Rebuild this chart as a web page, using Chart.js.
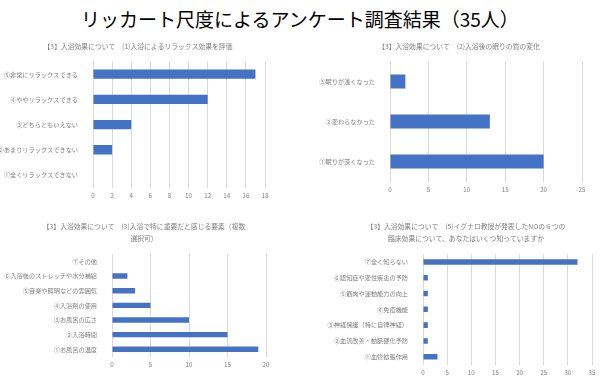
<!DOCTYPE html>
<html>
<head>
<meta charset="utf-8">
<script src="https://cdn.jsdelivr.net/npm/chart.js@4"></script>
<style>
  body { margin: 0; background: #fff; }
  #wrap { position: relative; width: 600px; height: 381px; overflow: hidden; }
  h1 { position: absolute; left: 0; top: 5px; width: 600px; margin: 0; text-align: center;
       font: 19px "Noto Sans CJK JP", sans-serif; color: #000; }
  canvas { position: absolute; }
</style>
</head>
<body>
<div id="wrap">
  <h1>リッカート尺度によるアンケート調査結果（35人）</h1>
  <canvas id="c1" width="300" height="170" style="left:0;top:35px"></canvas>
  <canvas id="c2" width="300" height="170" style="left:300px;top:35px"></canvas>
  <canvas id="c3" width="300" height="171" style="left:0;top:210px"></canvas>
  <canvas id="c4" width="300" height="171" style="left:300px;top:210px"></canvas>
</div>
<script>
// (1) relax effect
const relaxLabels = ['⑤非常にリラックスできる', '④ややリラックスできる', '③どちらともいえない', '②あまりリラックスできない', '①全くリラックスできない'];
const relaxValues = [17, 12, 4, 2, 0];

// (2) sleep quality
const sleepLabels = ['③眠りが浅くなった', '②変わらなかった', '①眠りが深くなった'];
const sleepValues = [2, 13, 20];

// (3) important factors
const factorLabels = ['⑦その他', '⑥入浴後のストレッチや水分補給', '⑤音楽や照明などの雰囲気', '④入浴剤の使用', '③お風呂の広さ', '②入浴時間', '①お風呂の温度'];
const factorValues = [0, 2, 3, 5, 10, 15, 19];

// (5) NO effects known
const noLabels = ['⑦全く知らない', '⑥認知症や変性疾患の予防', '⑤筋肉や運動能力の向上', '④免疫機能', '③神経保護（特に自律神経）', '②血流改善・動脈硬化予防', '①血管拡張作用'];
const noValues = [32, 1, 1, 1, 1, 1, 3];

const FONT = '"Noto Sans CJK JP", sans-serif';
const GRAY = '#7f7f7f';
const BLUE = '#4472C4';
const FS = 6.2;

function makeChart(id, labels, values, cfg) {
  new Chart(document.getElementById(id), {
    type: 'bar',
    data: {
      labels: labels,
      datasets: [{
        data: values,
        backgroundColor: BLUE,
        barPercentage: cfg.bar,
        categoryPercentage: 1
      }]
    },
    options: {
      indexAxis: 'y',
      responsive: false,
      animation: false,
      layout: { padding: cfg.pad },
      plugins: {
        legend: { display: false },
        tooltip: { enabled: false },
        title: {
          display: true,
          text: cfg.title,
          color: GRAY,
          font: { family: FONT, size: 6.8, weight: 'normal', lineHeight: 1.7 },
          padding: cfg.titlePad
        }
      },
      scales: {
        x: {
          min: 0,
          max: cfg.max,
          ticks: { stepSize: cfg.step, color: GRAY, font: { family: FONT, size: FS }, padding: 4 },
          grid: { color: '#d9d9d9', drawTicks: false },
          border: { display: false }
        },
        y: {
          afterFit: (scale) => { scale.width = cfg.yw; },
          ticks: { color: GRAY, font: { family: FONT, size: FS }, padding: 7 },
          grid: { display: false },
          border: { color: '#d9d9d9' }
        }
      }
    },
    plugins: [{
      // move the title so it is centred where the original one is
      id: 'titleShift',
      afterLayout(chart) {
        const t = chart.titleBlock;
        const hw = (t.right - t.left) / 2;
        t.left = cfg.titleX - hw;
        t.right = cfg.titleX + hw;
      }
    }]
  });
}

makeChart('c1', relaxLabels, relaxValues, {
  title: '【3】入浴効果について　(1)入浴によるリラックス効果を評価',
  max: 18, step: 2, bar: 0.37, yw: 93, titleX: 138,
  pad: { left: 0, right: 35, top: 0, bottom: 2 },
  titlePad: { top: 6, bottom: 9 }
});

makeChart('c2', sleepLabels, sleepValues, {
  title: '【3】入浴効果について　(2)入浴後の眠りの質の変化',
  max: 25, step: 5, bar: 0.35, yw: 74, titleX: 159,
  pad: { left: 16, right: 18, top: 0, bottom: 8 },
  titlePad: { top: 6, bottom: 9 }
});

makeChart('c3', factorLabels, factorValues, {
  title: ['【3】入浴効果について　(3)入浴で特に重要だと感じる要素（複数', '選択可）'],
  max: 20, step: 5, bar: 0.37, yw: 110, titleX: 144,
  pad: { left: 2, right: 34, top: 0, bottom: 9 },
  titlePad: { top: 11, bottom: 10 }
});

makeChart('c4', noLabels, noValues, {
  title: ['【3】入浴効果について　(5)イグナロ教授が発表したNOの６つの', '臨床効果について、あなたはいくつ知っていますか'],
  max: 35, step: 5, bar: 0.35, yw: 99, titleX: 166,
  pad: { left: 24, right: 8, top: 0, bottom: 1 },
  titlePad: { top: 11, bottom: 10 }
});
</script>
</body>
</html>
